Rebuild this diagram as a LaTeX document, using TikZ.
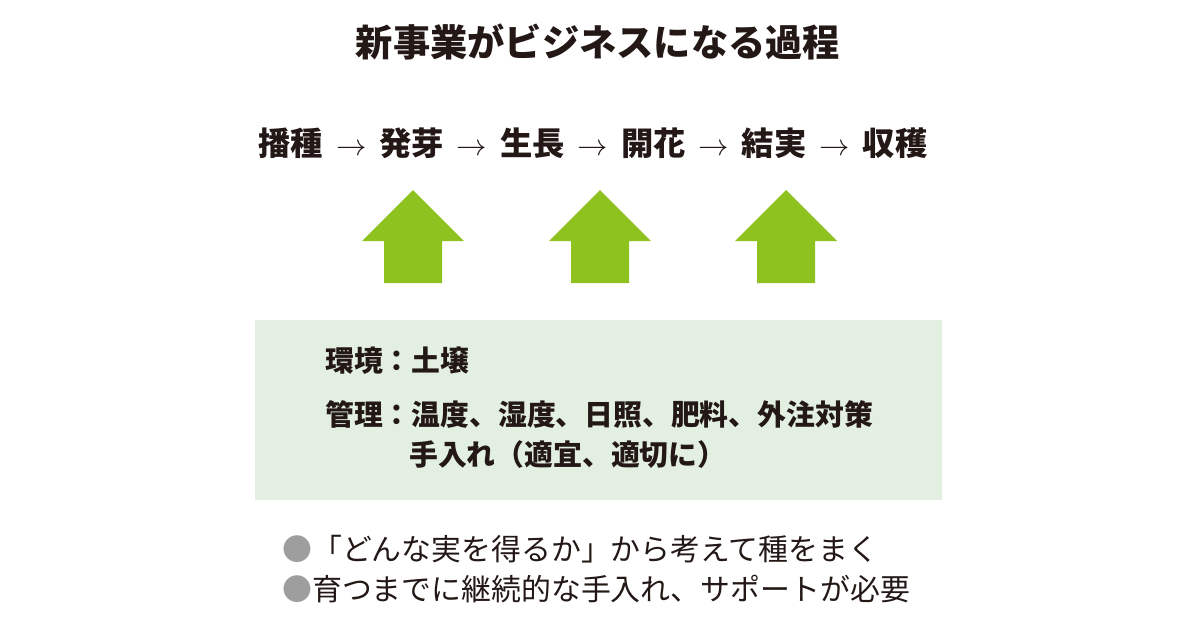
\documentclass[tikz,border=0pt]{standalone}
\usepackage{fontspec}
\setmainfont{Noto Sans CJK JP}
\usetikzlibrary{positioning}
\definecolor{leaf}{HTML}{8DC21F}
\definecolor{soil}{HTML}{E2EFE1}
\definecolor{ink}{HTML}{231815}
\definecolor{dot}{HTML}{9E9E9E}
\newcommand{\stagesep}{\hspace{0.4em}$\rightarrow$\hspace{0.4em}}

\begin{document}
\begin{tikzpicture}[x=0.02cm,y=-0.02cm,
	every node/.style={text=ink,inner sep=0pt},
	upmark/.style={fill=leaf,draw=none},
	boxtext/.style={anchor=west,font=\fontsize{16.4}{19}\bfseries\selectfont},
	plain/.style={font=\fontsize{17}{20}\selectfont,anchor=west}]
	\useasboundingbox (0,0) rectangle (1200,630);
	% title and stages
	\node (title) at (598,42) {\fontsize{21.2}{24}\bfseries\selectfont 新事業がビジネスになる過程};
	\node (stages) at (593,143) {\fontsize{18.4}{22}\bfseries\selectfont 播種\stagesep 発芽\stagesep 生長\stagesep 開花\stagesep 結実\stagesep 収穫};

	% arrows
	\foreach \cx in {413,600,786}
		\fill[upmark] (\cx-29,283) -- (\cx-29,241) -- (\cx-51,241) -- (\cx,190)
			-- (\cx+51,241) -- (\cx+29,241) -- (\cx+29,283) -- cycle;

	% soil box
	\fill[soil] (255,320) rectangle (942,500);
	\node (env) [boxtext] at (325,361) {環境：土壌};
	\node (care) [boxtext] at (325,414) {管理：温度、湿度、日照、肥料、外注対策};
	\node (care2) [boxtext] at (409,455) {手入れ（適宜、適切に）};

	% notes
	\node (note1) [plain] at (282,549) {\textcolor{dot}{●}「どんな実を得るか」から考えて種をまく};
	\node (note2) [plain] at (282,589) {\textcolor{dot}{●}育つまでに継続的な手入れ、サポートが必要};
\end{tikzpicture}
\end{document}
